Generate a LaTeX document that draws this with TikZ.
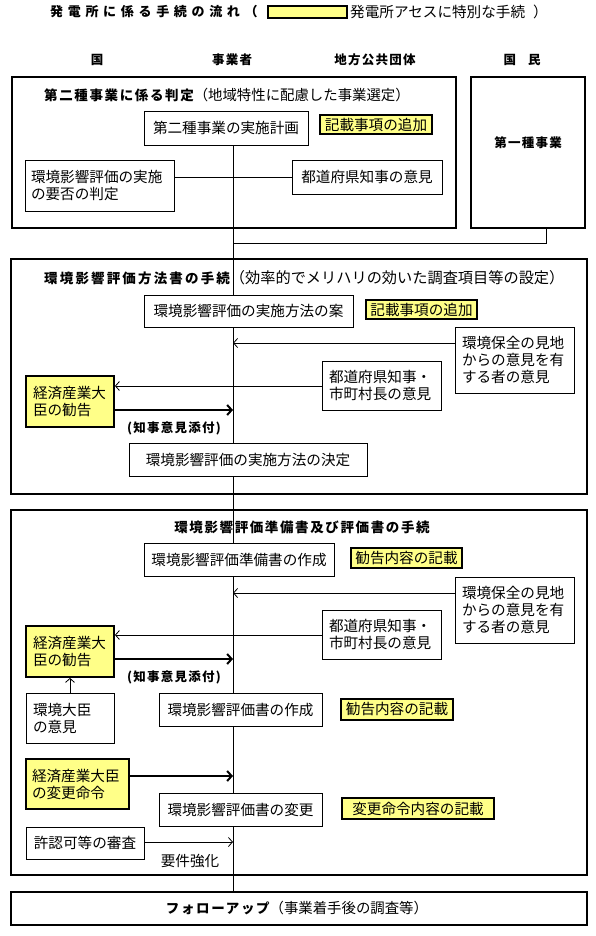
\documentclass[tikz,border=0pt]{standalone}
\usepackage{fontspec}
\setmainfont{Noto Sans CJK JP}
\usetikzlibrary{arrows.meta}
\definecolor{yfill}{RGB}{255,255,136}
\newcommand\fsN{\fontsize{14.6pt}{17pt}\selectfont}
\newcommand\fsP{\fontsize{14.4pt}{17pt}\selectfont}
\newcommand\fsQ{\fontsize{15.2pt}{17pt}\selectfont}
\newcommand\fsH{\fontsize{13.5pt}{16pt}\selectfont\bfseries\addfontfeatures{LetterSpace=12}}
\newcommand\fsHH{\fontsize{13.5pt}{16pt}\selectfont\bfseries\addfontfeatures{LetterSpace=16}}
\newcommand\fsT{\fontsize{13pt}{15pt}\selectfont\bfseries\addfontfeatures{LetterSpace=36}}
\newcommand\fsB{\fontsize{12.5pt}{15pt}\selectfont\bfseries\addfontfeatures{LetterSpace=10}}
\newcommand\bx[9]{%
 \pgfmathsetmacro\bxw{#5-#3-2*#8}%
 \pgfmathsetmacro\bxh{#6-#4}%
 \pgfmathsetmacro\bxx{(#3+#5)/2}%
 \pgfmathsetmacro\bxy{(#4+#6)/2}%
 \node[#2, inner xsep=#8pt, inner ysep=0pt, text width=\bxw pt, align=#7, minimum height=\bxh pt] (#1) at (\bxx,\bxy) {#9};}
\begin{document}
\begin{tikzpicture}[x=1pt,y=-1pt,
  frame/.style={draw, line width=1.8pt, inner sep=0pt},
  box/.style={draw, line width=0.8pt, fill=white, font=\fsN},
  ybox/.style={draw, line width=1.8pt, fill=yfill, font=\fsN},
  ylab/.style={draw, line width=1.4pt, fill=yfill, font=\fsN, inner sep=0pt},
  ln/.style={line width=0.8pt},
  tarr/.style={line width=0.8pt, -{Straight Barb[length=4pt,width=9pt]}},
  karr/.style={line width=2pt, -{Straight Barb[length=4.5pt,width=10pt]}},
  lbl/.style={inner sep=0pt}]
\useasboundingbox (0,0) rectangle (595,936);
% ---- title and legend
\node[lbl, anchor=west, font=\fsT] (ttl) at (50,12) {発電所に係る手続の流れ（};
\node[ylab, minimum width=79pt, minimum height=12pt] (leg) at (307.5,12) {};
\node[lbl, anchor=west, font=\fsN] (ttr) at (350,12) {発電所アセスに特別な手続\hspace{8pt}）};
% ---- column heads
\node[lbl, font=\fsB] (h1) at (97,60) {国};
\node[lbl, font=\fsB] (h2) at (232,60) {事業者};
\node[lbl, font=\fsB] (h3) at (375,60) {地方公共団体};
\node[lbl, font=\fsB] (h4) at (522,60) {国\hspace{12pt}民};
\coordinate (cl) at (233,0);
% ---- frames
\node[frame, minimum width=444pt, minimum height=151pt] (f1) at (234,152.5) {};
\node[frame, minimum width=114pt, minimum height=151pt] (s1) at (528,152.5) {};
\node[lbl, font=\fsB] (s1t) at (528,143) {第一種事業};
\node[frame, minimum width=576pt, minimum height=235pt] (f2) at (299,376.5) {};
\node[frame, minimum width=576pt, minimum height=365pt] (f3) at (299,692.5) {};
\node[frame, minimum width=576pt, minimum height=33pt] (fu) at (299,908.5) {};
\node[lbl] (fut) at (297,908.5) {{\fsH フォローアップ}{\fsP （事業着手後の調査等）}};
% ---- box 1
\node[lbl, anchor=west] (t1) at (44,95) {{\fsH 第二種事業に係る判定}{\fsP （地域特性に配慮した事業選定）}};
\bx{n11}{box}{144}{111}{308}{145}{center}{4}{第二種事業の実施計画}
\bx{y11}{ylab}{320}{115}{432}{134}{center}{1}{記載事項の追加}
\bx{n12}{box}{25}{160}{174}{211}{left}{6}{環境影響評価の実施\\の要否の判定}
\bx{n13}{box}{292}{160}{442}{194}{center}{4}{都道府県知事の意見}
% ---- box 2
\node[lbl, anchor=west] (t2) at (44,278) {{\fsHH 環境影響評価方法書の手続}{\fsQ （効率的でメリハリの効いた調査項目等の設定）}};
\bx{n21}{box}{144}{295}{353}{327}{center}{4}{環境影響評価の実施方法の案}
\bx{y21}{ylab}{366}{300}{477}{319}{center}{1}{記載事項の追加}
\bx{n22}{box}{455}{327}{574}{393}{left}{7}{環境保全の見地\\からの意見を有\\する者の意見}
\bx{n23}{box}{322}{361}{441}{410}{left}{7}{都道府県知事・\\市町村長の意見}
\bx{n24}{ybox}{26}{376}{114}{427}{left}{7}{経済産業大\\臣の勧告}
\node[lbl, font=\fsB] (c24) at (174,428) {(知事意見添付)};
\bx{n25}{box}{129}{443}{367}{476}{center}{4}{環境影響評価の実施方法の決定}
% ---- box 3
\node[lbl, font=\fsH] (t3) at (302,527) {環境影響評価準備書及び評価書の手続};
\bx{n31}{box}{144}{543}{334}{576}{center}{4}{環境影響評価準備書の作成}
\bx{y31}{ylab}{351}{548}{462}{568}{center}{1}{勧告内容の記載}
\bx{n32}{box}{455}{577}{574}{643}{left}{7}{環境保全の見地\\からの意見を有\\する者の意見}
\bx{n33}{box}{322}{610}{441}{659}{left}{7}{都道府県知事・\\市町村長の意見}
\bx{n34}{ybox}{26}{626}{114}{677}{left}{7}{経済産業大\\臣の勧告}
\node[lbl, font=\fsB] (c34) at (174,677) {(知事意見添付)};
\bx{n35}{box}{26}{693}{114}{743}{left}{7}{環境大臣\\の意見}
\bx{n36}{box}{159}{693}{322}{726}{center}{4}{環境影響評価書の作成}
\bx{y36}{ylab}{341}{699}{453}{720}{center}{1}{勧告内容の記載}
\bx{n37}{ybox}{26}{759}{129}{809}{left}{6}{経済産業大臣\\の変更命令}
\bx{n38}{box}{159}{793}{322}{826}{center}{4}{環境影響評価書の変更}
\bx{y38}{ylab}{342}{798}{494}{819}{center}{1}{変更命令内容の記載}
\bx{n39}{box}{26}{827}{144}{859}{center}{4}{許認可等の審査}
\node[lbl, font=\fsN] (yk) at (190,861) {要件強化};
% ---- helper coordinates
\coordinate (k1) at (546,243);
\coordinate (a22) at (0,343);
\coordinate (a23) at (0,386);
\coordinate (a24) at (0,410);
\coordinate (a32) at (0,593);
\coordinate (a33) at (0,635);
\coordinate (a34) at (0,659);
\coordinate (a37) at (0,776);
\coordinate (a39) at (0,842);
% ---- connectors
\draw[ln] (n11.south -| cl) -- (n21.north -| cl);
\draw[ln] (n12.east |- n13.west) -- (n13.west);
\draw[ln] (s1.south -| k1) |- (cl |- k1);
\draw[ln] (n21.south -| cl) -- (n25.north -| cl);
\draw[ln] (n25.south -| cl) -- (n31.north -| cl);
\draw[tarr] (n22.west |- a22) -- (cl |- a22);
\draw[tarr] (n23.west |- a23) -- (n24.east |- a23);
\draw[karr] (n24.east |- a24) -- (cl |- a24);
\draw[ln] (n31.south -| cl) -- (n36.north -| cl);
\draw[ln] (n36.south -| cl) -- (n38.north -| cl);
\draw[ln] (n38.south -| cl) -- (fu.north -| cl);
\draw[tarr] (n32.west |- a32) -- (cl |- a32);
\draw[tarr] (n33.west |- a33) -- (n34.east |- a33);
\draw[karr] (n34.east |- a34) -- (cl |- a34);
\draw[tarr] (n35.north) -- (n34.south);
\draw[karr] (n37.east |- a37) -- (cl |- a37);
\draw[tarr] (n39.east |- a39) -- (cl |- a39);
\end{tikzpicture}
\end{document}
